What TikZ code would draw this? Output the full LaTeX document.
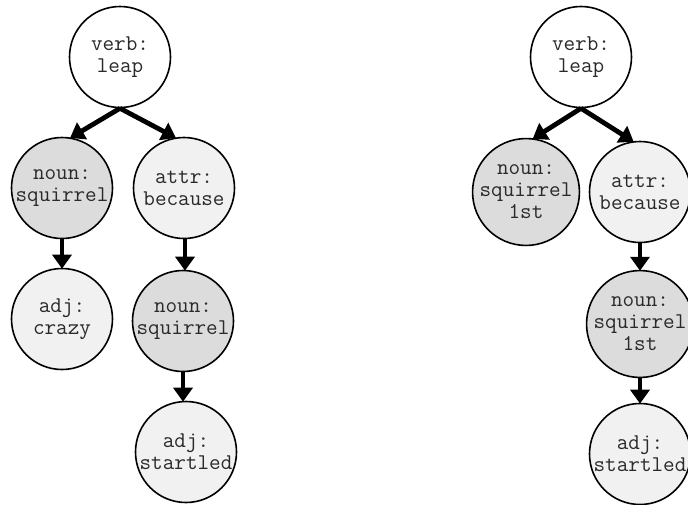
\documentclass[tikz,border=0pt]{standalone}
\usetikzlibrary{arrows.meta}
\definecolor{nounfill}{HTML}{DCDCDC}
\definecolor{lightfill}{HTML}{F1F1F1}
\definecolor{txt}{HTML}{2A2A2A}
\begin{document}
\begin{tikzpicture}[x=1pt,y=-1pt,
  word/.style={circle, draw=black, line width=1.6pt, minimum size=101pt, inner sep=0pt,
    align=center, text=txt, font=\ttfamily\fontsize{22.5}{22}\selectfont},
  rootw/.style={word, fill=white},
  nounw/.style={word, fill=nounfill},
  lightw/.style={word, fill=lightfill},
  link/.style={line width=4.8pt, -{Triangle[length=14pt,width=19pt]}, shorten >=-1pt}]
\useasboundingbox (0,0) rectangle (688,504);

% left tree
\node[rootw]  (l0) at (120,57)  {verb:\\leap};
\node[nounw]  (l1) at (62,188)  {noun:\\squirrel};
\node[lightw] (l2) at (184,188) {attr:\\because};
\node[lightw] (l3) at (62,319)  {adj:\\crazy};
\node[nounw]  (l4) at (183,321) {noun:\\squirrel};
\node[lightw] (l5) at (186,452) {adj:\\startled};

\draw[link] (l0.south) -- (l1.80);
\draw[link] (l0.south) -- (l2.100);
\draw[link] (l1.south) -- (l3.north);
\draw[link] ([xshift=1pt]l2.south) -- ([xshift=1pt]l2.south |- l4.north);
\draw[link] (l4.south) -- (l4.south |- l5.north);

% right tree
\node[rootw]  (r0) at (581,57)  {verb:\\leap};
\node[nounw]  (r1) at (526,192) {noun:\\squirrel\\1st};
\node[lightw] (r2) at (640,192) {attr:\\because};
\node[nounw]  (r3) at (640,324) {noun:\\squirrel\\1st};
\node[lightw] (r4) at (640,454) {adj:\\startled};

\draw[link] (r0.south) -- (r1.82);
\draw[link] (r0.south) -- (r2.98);
\draw[link] (r2.south) -- (r3.north);
\draw[link] (r3.south) -- (r4.north);
\end{tikzpicture}
\end{document}
